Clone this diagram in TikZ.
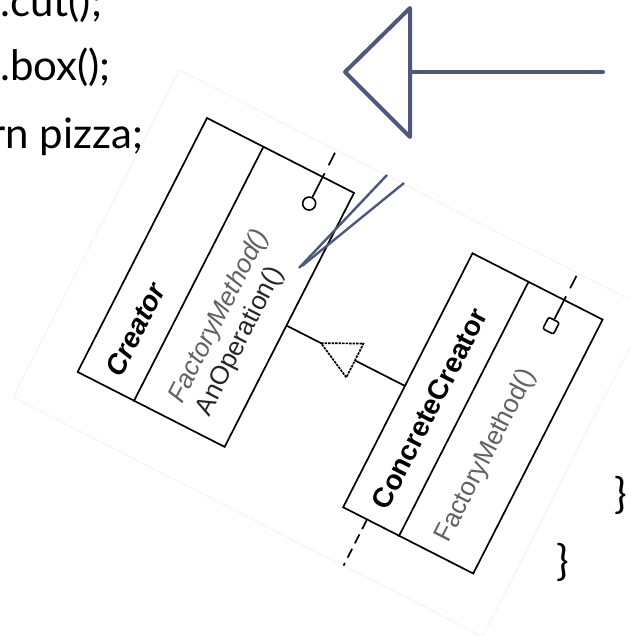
\documentclass[tikz,border=0pt]{standalone}
\usepackage{fontspec}
\setmainfont{Lato}
\newfontfamily\umlfont{Liberation Sans}
\usepackage{xcolor}
\definecolor{slidecol}{RGB}{78,88,122}
\colorlet{opcol}{black!62}
\tikzset{>=latex}
\tikzstyle{codeline}=[inner sep=0,anchor=base west,font=\fontsize{42}{50}\selectfont]
\tikzstyle{umlbox}=[draw,line width=1.7pt,rectangle,inner sep=0,anchor=south west]
\tikzstyle{umlline}=[line width=1.7pt]
\tikzstyle{classname}=[inner sep=0,anchor=base west,font=\umlfont\fontsize{28}{34}\selectfont\bfseries]
\tikzstyle{opname}=[inner sep=0,anchor=base west,font=\umlfont\fontsize{26}{31}\selectfont]
\tikzstyle{stubdash}=[dash pattern=on 5pt off 9pt on 14pt off 9pt]
\tikzstyle{slide}=[slidecol,line width=4pt]

\begin{document}
\begin{tikzpicture}[x=1pt,y=1pt]
  \useasboundingbox (0,0) rectangle (630,-636);
  \clip (0,0) rectangle (630,-636);

  % code lines
  \node[codeline] (cut) at (0,-17) {.cut();};
  \node[codeline] (box) at (0,-81) {.box();};
  \node[codeline] (ret) at (-10,-149) {rn pizza;};
  \node[codeline,anchor=center] (brace1) at (621,-495) {\}};
  \node[codeline,anchor=center] (brace2) at (563,-562) {\}};

  % scanned diagram
  \begin{scope}[shift={(225,-448)},rotate=63,transform shape]
    \draw[black!8,line width=0.5pt] (-51,-315) rectangle (316,212);

    % Creator
    \node[umlbox,minimum width=285pt,minimum height=165pt] (creator) at (0,0) {};
    \draw[umlline] (0,102.5) -- (285,102.5);
    \node[classname,font=\umlfont\fontsize{28}{34}\selectfont\bfseries\itshape] (creator-name) at (15,124) {Creator};
    \node[opname,opcol,font=\umlfont\fontsize{26}{31}\selectfont\itshape] (creator-fm) at (19,58) {FactoryMethod()};
    \node[opname,black!85] (creator-ao) at (20,28) {AnOperation()};
    \node[draw,circle,line width=1.6pt,minimum size=13pt,inner sep=0] (creator-dot) at (256,36) {};
    \coordinate (creator-out) at (285,36);
    \coordinate (creator-end) at (316,36);
    \draw[umlline] (creator-dot) -- (creator-out);
    \draw[umlline,stubdash] (creator-out) -- (creator-end);

    % ConcreteCreator
    \node[umlbox,minimum width=285pt,minimum height=146pt] (concrete) at (0,-279) {};
    \draw[umlline] (0,-195) -- (285,-195);
    \node[classname] (concrete-name) at (17,-174) {ConcreteCreator};
    \node[opname,opcol] (concrete-fm) at (16,-243) {FactoryMethod()};
    \node[draw,rounded corners=2pt,line width=1.6pt,minimum width=13pt,minimum height=12pt,inner sep=0] (concrete-dot) at (257,-235) {};
    \coordinate (concrete-out) at (285,-235);
    \coordinate (concrete-end) at (316,-235);
    \draw[umlline] (concrete-dot) -- (concrete-out);
    \draw[umlline,stubdash] (concrete-out) -- (concrete-end);
    \coordinate (concrete-left) at (0,-159);
    \coordinate (concrete-lend) at (-51,-159);
    \draw[umlline,dash pattern=on 10pt off 6pt] (concrete-left) -- (concrete-lend);

    % inheritance
    \coordinate (creator-in) at (137,0);
    \coordinate (tip) at (137,-38);
    \coordinate (base-r) at (156,-76);
    \coordinate (base-l) at (118,-76);
    \coordinate (base) at (137,-76);
    \coordinate (concrete-in) at (137,-133);
    \draw[umlline] (creator-in) -- (tip);
    \draw[umlline,line join=round,dash pattern=on 2.5pt off 1pt] (tip) -- (base-r) -- (base-l) -- cycle;
    \draw[umlline] (base) -- (concrete-in);
  \end{scope}

  % slide arrow
  \coordinate (arr-tail) at (603,-72);
  \coordinate (arr-base) at (410,-72);
  \draw[slide,line cap=round] (arr-tail) -- (arr-base);
  \draw[slide,line join=round] (410,-8) -- (345,-72) -- (410,-137) -- cycle;

  % pointer lines
  \coordinate (ptr-a) at (387,-175);
  \coordinate (ptr-b) at (404,-183);
  \coordinate (ptr-end) at (299,-268);
  \draw[slidecol,line width=2.4pt] (ptr-a) -- (ptr-end);
  \draw[slidecol,line width=2.4pt] (ptr-b) -- (302,-266);
\end{tikzpicture}
\end{document}
